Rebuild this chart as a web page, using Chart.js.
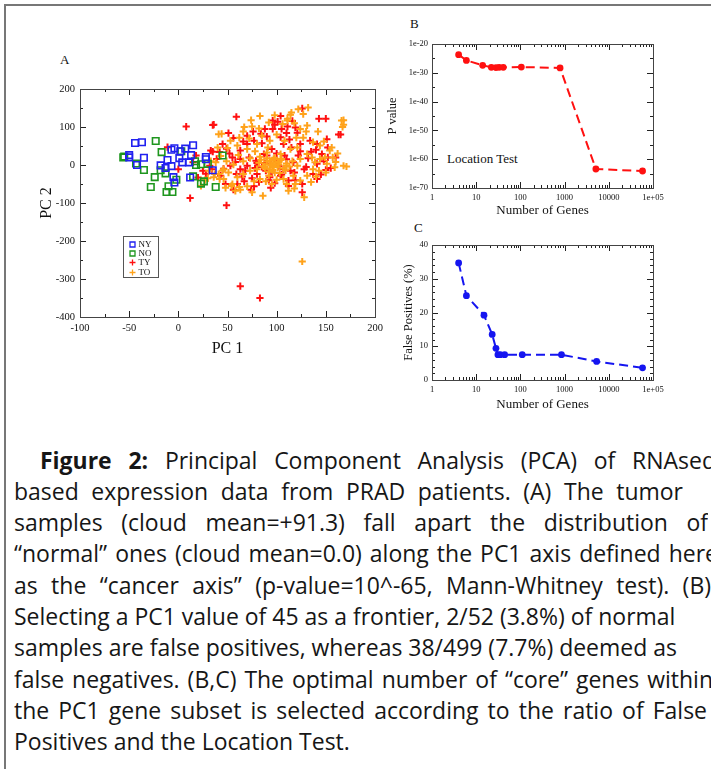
<!DOCTYPE html>
<html>
<head>
<meta charset="utf-8">
<script src="https://cdn.jsdelivr.net/npm/chart.js@4.4.1/dist/chart.umd.min.js"></script>
<style>
  html, body { margin: 0; padding: 0; background: #fff; }
  body { width: 711px; height: 769px; position: relative; overflow: hidden; font-family: "Liberation Serif", serif; }
  .frame { position: absolute; left: 4px; top: 4px; width: 800px; height: 800px; border-left: 2px solid #777; border-top: 2px solid #777; }
  canvas { position: absolute; }
  .lbl { position: absolute; color: #111; white-space: nowrap; font-family: "Liberation Serif", serif; }
  .cap { position: absolute; font-family: "Open Sans", sans-serif; font-size: 20px; line-height: 31px; color: #161616; white-space: nowrap; }
  .just { white-space: normal; text-align: justify; text-align-last: justify; height: 31px; overflow: hidden; }
</style>
</head>
<body>
<div class="frame"></div>

<div class="lbl" style="left:60px; top:52px; font-size:13px;">A</div>
<div class="lbl" style="left:410px; top:16px; font-size:13px;">B</div>
<div class="lbl" style="left:414px; top:220px; font-size:13px;">C</div>
<div class="lbl" style="left:447px; top:151px; font-size:13px;">Location Test</div>

<canvas id="chartA" width="370" height="330" style="left:20px; top:40px;"></canvas>
<canvas id="chartB" width="320" height="200" style="left:385px; top:20px;"></canvas>
<canvas id="chartC" width="320" height="195" style="left:385px; top:225px;"></canvas>

<div class="cap just" style="left:40px; top:445px; width:676px;"><b>Figure 2:</b> Principal Component Analysis (PCA) of RNAseq</div>
<div class="cap just" style="left:14px; top:476px; width:669px;">based expression data from PRAD patients. (A) The tumor</div>
<div class="cap just" style="left:14px; top:507px; width:694px;">samples (cloud mean=+91.3) fall apart the distribution of</div>
<div class="cap just" style="left:14px; top:538px; width:704px;">“normal” ones (cloud mean=0.0) along the PC1 axis defined here</div>
<div class="cap just" style="left:14px; top:570px; width:697px;">as the “cancer axis” (p-value=10^-65, Mann-Whitney test). (B)</div>
<div class="cap" style="left:14px; top:601px;">Selecting a PC1 value of 45 as a frontier, 2/52 (3.8%) of normal</div>
<div class="cap" style="left:14px; top:632px;">samples are false positives, whereas 38/499 (7.7%) deemed as</div>
<div class="cap just" style="left:14px; top:664px; width:699px;">false negatives. (B,C) The optimal number of “core” genes within</div>
<div class="cap just" style="left:14px; top:695px; width:693px;">the PC1 gene subset is selected according to the ratio of False</div>
<div class="cap" id="lastLine" style="left:14px; top:726px;">Positives and the Location Test.</div>

<script>
// ---- Painel A: PCA (PC1, PC2) ----
const ny = [[-44,58],[-37,60],[-50,26],[-50,20],[-35,19],[-42,0],[-18,-1],[-11,13],[-7,40],[-4,44],[-7,-3],[-5,-32],
  [-4,-46],[1,18],[7,43],[15,52],[4,7],[11,7],[13,26],[28,21],[28,15],[12,-33],[35,-14],[2,36],[-13,-8]];
const no = [[-55,22],[-43,4],[-23,63],[-17,34],[-35,-13],[-24,-32],[-28,-58],[-18,-14],[-13,-22],[-10,-56],[-12,-71],
  [-6,-71],[-2,-39],[3,36],[15,-30],[18,0],[23,2],[30,3],[26,-43],[23,-49],[38,-58],[45,25],[17,10],[-56,20]];
const ty = [[8,101],[36,106],[59,127],[12,-87],[49,-106],[63,-319],[83,-350],[-11,47],[0,-11],[126,149],[150,122],
  [143,122],[165,80],[35,105],[96,117],[101,114],[119,99],[105,95],[110,84],[96,95],[116,116],[163,80],[51,84],
  [56,71],[70,77],[77,64],[84,82],[90,75],[104,73],[113,67],[124,55],[134,64],[141,55],[151,68],[152,46],[152,20],
  [160,20],[150,-13],[141,-37],[126,-50],[126,-72],[112,-41],[104,-28],[94,-60],[93,-32],[77,-56],[74,-65],[67,-43],
  [56,-65],[48,-50],[43,-28],[34,-11],[33,38],[49,43],[55,20],[63,16],[70,-2],[79,11],[87,29],[95,42],[100,10],
  [108,25],[117,7],[124,36],[132,18],[141,3],[146,29],[148,10],[128,-11],[114,-15],[107,-11],[89,-15],[80,-24],
  [63,-11],[53,-2],[59,-24],[70,55],[63,38],[85,57],[107,55],[115,46],[15,7],[18,25],[20,-33],[25,-15],[32,-2],
  [39,16],[42,34],[28,-23],[35,35],[85,-5],[95,-20],[105,-25],[110,15],[90,25],[100,30],[80,5],[72,20],[65,-30],
  [58,8],[75,-35],[118,-20],[122,25],[130,-5],[135,35],[145,-25],[68,-15],[82,-45],[112,-55],[98,-48],[88,95],
  [111,101],[121,85],[76,88],[98,106],[104,129],[66,62],[140,40],[155,-8],[137,-24],[119,-40],[92,-40],[60,-50],
  [46,-10],[52,30],[45,55],[102,-3],[88,5],[94,2],[78,-8]];
const to = [[126,-254],[132,151],[168,106],[168,118],[171,-4],[128,-85],[86,-81],[44,82],[66,88],[127,134],[114,132],
  [111,117],[124,95],[131,104],[166,117],[167,100],[41,81],[75,101],[85,77],[93,64],[100,80],[120,72],[127,72],
  [137,60],[144,51],[154,38],[157,20],[168,-2],[159,-6],[151,3],[143,-15],[137,-11],[131,-28],[124,-41],[119,-50],
  [110,-50],[100,-39],[92,-28],[83,-37],[77,-43],[70,-56],[63,-65],[55,-50],[46,-37],[41,-24],[36,-32],[31,-15],
  [38,7],[43,24],[49,10],[56,1],[61,26],[66,10],[73,18],[78,36],[83,22],[90,18],[93,1],[97,16],[102,1],[105,16],
  [110,-2],[116,10],[121,-2],[124,16],[131,29],[136,20],[139,7],[144,16],[93,-11],[98,-20],[88,-4],[80,-11],
  [73,-15],[66,-24],[60,-32],[51,-20],[46,-11],[104,29],[114,42],[121,46],[108,64],[91,46],[80,55],[70,42],[60,51],
  [53,64],[90,33],[149,20],[156,46],[117,-28],[107,-37],[95,-50],[89,-43],[45,-15],[37,-24],[23,-55],[42,-37],
  [54,-55],[67,100],[74,118],[83,129],[98,131],[111,122],[115,138],[122,147],[95,0],[99,6],[101,-6],[90,9],
  [104,13],[107,-9],[86,-3],[96,-13],[98,19],[110,4],[88,-8],[93,11],[97,-4],[102,8],[113,-4],[84,14],[92,-18],
  [103,-21],[82,6],[109,-14],[30,-35],[27,-40],[48,-60],[58,-68],[62,-58],[75,-72],[112,-68],[118,-62],[135,-45],
  [140,-30],[150,-20],[160,8],[162,30],[148,62],[142,88],[130,88],[118,110],[106,108],[92,112],[82,96],[72,70],
  [62,72],[50,45],[40,46],[33,10]];
const xTicksA = [-100, -50, 0, 50, 100, 150, 200];
const yTicksA = [-400, -300, -200, -100, 0, 100, 200];

// ---- Painel B: Location Test ----
const genesB = [4, 6, 14, 22, 28, 33, 41, 105, 790, 5100, 58000];
const pvalExpB = [-23.7, -25.7, -27.4, -28.1, -28.2, -28.1, -28.1, -28.0, -28.3, -63.4, -64.1];
const yTicksB = [-70, -60, -50, -40, -30, -20];

// ---- Painel C: Falsos positivos ----
const genesC = [4, 6, 15, 23, 28, 31, 35, 44, 110, 850, 5300, 58000];
const falsePosC = [34.7, 25.0, 19.2, 13.5, 9.4, 7.5, 7.5, 7.5, 7.5, 7.5, 5.5, 3.6];
const yTicksC = [0, 10, 20, 30, 40];
const xTicksLog = [1, 10, 100, 1000, 10000, 100000];

// legenda: largura da última linha (px) usada para calibrar o tamanho da fonte
const larguraUltimaLinha = 336;
(function ajustaFonte() {
  const el = document.getElementById('lastLine');
  const c = document.createElement('canvas').getContext('2d');
  c.font = '100px "Open Sans"';
  const w = c.measureText(el.textContent).width;
  const size = (100 * larguraUltimaLinha / w).toFixed(2);
  document.querySelectorAll('.cap').forEach(d => { d.style.fontSize = size + 'px'; });
})();

const toXY = arr => arr.map(p => ({ x: p[0], y: p[1] }));
const serif = 'Liberation Serif';
const corTexto = '#111';

// ticks para dentro nos quatro lados + moldura (estilo xmgrace)
const frameTicks = {
  id: 'frameTicks',
  afterDatasetsDraw(chart, args, o) {
    const { ctx, chartArea: a, scales: { x, y } } = chart;
    const minor = (scale, step, isLog) => {
      const out = [];
      if (isLog) {
        for (let d = 1; d < scale.max; d *= 10) for (let k = 2; k < 10; k++) out.push(d * k);
      } else {
        for (let v = scale.min; v <= scale.max; v += step) out.push(v);
      }
      return out;
    };
    ctx.save();
    ctx.strokeStyle = '#222';
    ctx.lineWidth = 1;
    ctx.beginPath();
    const vtick = (v, len) => {
      const px = Math.round(x.getPixelForValue(v)) + 0.5;
      ctx.moveTo(px, a.bottom); ctx.lineTo(px, a.bottom - len);
      ctx.moveTo(px, a.top); ctx.lineTo(px, a.top + len);
    };
    const htick = (v, len) => {
      const py = Math.round(y.getPixelForValue(v)) + 0.5;
      ctx.moveTo(a.left, py); ctx.lineTo(a.left + len, py);
      ctx.moveTo(a.right, py); ctx.lineTo(a.right - len, py);
    };
    minor(x, o.xMinor, o.xLog).forEach(v => vtick(v, 3));
    minor(y, o.yMinor, false).forEach(v => htick(v, 3));
    x.ticks.forEach(t => vtick(t.value, 6));
    y.ticks.forEach(t => htick(t.value, 6));
    ctx.stroke();
    ctx.strokeStyle = '#444';
    ctx.strokeRect(Math.round(a.left) + 0.5, Math.round(a.top) + 0.5, Math.round(a.width), Math.round(a.height));
    ctx.restore();
  }
};

// legenda dentro do painel A
const boxLegend = {
  id: 'boxLegend',
  afterDraw(chart) {
    const { ctx, chartArea: a } = chart;
    const bx = a.left + 43.5, by = a.top + 147.5;
    ctx.save();
    ctx.strokeStyle = '#555';
    ctx.lineWidth = 1;
    ctx.strokeRect(bx, by, 35, 41);
    ctx.font = '9px "' + serif + '"';
    ctx.textBaseline = 'middle';
    chart.data.datasets.slice().sort((p, q) => p.legendIdx - q.legendIdx).forEach((ds, i) => {
      const cy = Math.round(by + 7 + i * 9.4) + 0.5;
      ctx.strokeStyle = ds.borderColor;
      ctx.lineWidth = 1.3;
      ctx.beginPath();
      if (ds.pointStyle === 'rect') ctx.rect(bx + 6.5, cy - 2.5, 5, 5);
      else { ctx.moveTo(bx + 6, cy); ctx.lineTo(bx + 12, cy); ctx.moveTo(bx + 9, cy - 3); ctx.lineTo(bx + 9, cy + 3); }
      ctx.stroke();
      ctx.fillStyle = corTexto;
      ctx.fillText(ds.label, bx + 15, cy + 0.5);
    });
    ctx.restore();
  }
};

const fixTicks = list => s => { s.ticks = list.map(v => ({ value: v })); };

new Chart(document.getElementById('chartA'), {
  type: 'scatter',
  data: {
    datasets: [
      { label: 'NY', legendIdx: 0, order: 0, data: toXY(ny), pointStyle: 'rect', pointRadius: 4.6,
        borderColor: '#2020f0', backgroundColor: 'rgba(0,0,0,0)', borderWidth: 1.6 },
      { label: 'NO', legendIdx: 1, order: 1, data: toXY(no), pointStyle: 'rect', pointRadius: 4.6,
        borderColor: '#1e961e', backgroundColor: 'rgba(0,0,0,0)', borderWidth: 1.6 },
      { label: 'TY', legendIdx: 2, order: 3, data: toXY(ty), pointStyle: 'cross', pointRadius: 3.6,
        borderColor: '#ff1010', backgroundColor: '#ff1010', borderWidth: 2 },
      { label: 'TO', legendIdx: 3, order: 2, data: toXY(to), pointStyle: 'cross', pointRadius: 3.6,
        borderColor: '#ffa21a', backgroundColor: '#ffa21a', borderWidth: 2 }
    ]
  },
  options: {
    responsive: false, animation: false, devicePixelRatio: 1,
    layout: { padding: { left: 15, top: 49, right: 15, bottom: 10 } },
    plugins: { legend: { display: false }, tooltip: { enabled: false },
      frameTicks: { xMinor: 25, yMinor: 50, xLog: false } },
    scales: {
      x: {
        type: 'linear', min: -100, max: 200,
        afterBuildTicks: fixTicks(xTicksA),
        afterFit: s => { s.height = 43; },
        grid: { display: false, drawTicks: false }, border: { display: false },
        ticks: { padding: 5, color: corTexto, font: { family: serif, size: 10.5 } },
        title: { display: true, text: 'PC 1', color: corTexto, font: { family: serif, size: 16 }, padding: { top: 0, bottom: 2 } }
      },
      y: {
        type: 'linear', min: -400, max: 200,
        afterBuildTicks: fixTicks(yTicksA),
        afterFit: s => { s.width = 45; },
        grid: { display: false, drawTicks: false }, border: { display: false },
        ticks: { padding: 5, color: corTexto, font: { family: serif, size: 10.5 } },
        title: { display: true, text: 'PC 2', color: corTexto, font: { family: serif, size: 16 }, padding: { top: 2, bottom: 0 } }
      }
    }
  },
  plugins: [frameTicks, boxLegend]
});

const lineOpts = (padding, yWidth, xHeight, yMin, yMax, yTicks, yFmt, yMinor, yTitle, yTitlePad) => ({
  responsive: false, animation: false, devicePixelRatio: 1,
  layout: { padding: padding },
  plugins: { legend: { display: false }, tooltip: { enabled: false },
    frameTicks: { xMinor: 0, yMinor: yMinor, xLog: true } },
  scales: {
    x: {
      type: 'logarithmic', min: 1, max: 100000,
      afterBuildTicks: fixTicks(xTicksLog),
      afterFit: s => { s.height = xHeight; },
      grid: { display: false, drawTicks: false }, border: { display: false },
      ticks: { padding: 5, color: corTexto, font: { family: serif, size: 8.5 },
        callback: v => v === 100000 ? '1e+05' : String(v) },
      title: { display: true, text: 'Number of Genes', color: corTexto, font: { family: serif, size: 13 }, padding: 0 }
    },
    y: {
      type: 'linear', min: yMin, max: yMax,
      afterBuildTicks: fixTicks(yTicks),
      afterFit: s => { s.width = yWidth; },
      grid: { display: false, drawTicks: false }, border: { display: false },
      ticks: { padding: 4, color: corTexto, font: { family: serif, size: 8.5 }, callback: yFmt },
      title: { display: true, text: yTitle, color: corTexto, font: { family: serif, size: 12.5 }, padding: { top: yTitlePad, bottom: 0 } }
    }
  }
});

new Chart(document.getElementById('chartB'), {
  type: 'line',
  data: {
    datasets: [{
      data: genesB.map((g, i) => ({ x: g, y: pvalExpB[i] })),
      borderColor: '#ff1010', backgroundColor: '#ff1010', borderWidth: 2, borderDash: [9, 5],
      pointRadius: 3.4, pointBorderWidth: 0, tension: 0
    }]
  },
  options: lineOpts({ left: 0, top: 24, right: 52, bottom: 2 }, 47, 30, -70, -20, yTicksB,
    v => '1e' + v, 5, 'P value', 0),
  plugins: [frameTicks]
});

new Chart(document.getElementById('chartC'), {
  type: 'line',
  data: {
    datasets: [{
      data: genesC.map((g, i) => ({ x: g, y: falsePosC[i] })),
      borderColor: '#1515f0', backgroundColor: '#1515f0', borderWidth: 2, borderDash: [9, 5],
      pointRadius: 3.4, pointBorderWidth: 0, tension: 0
    }]
  },
  options: lineOpts({ left: 0, top: 20, right: 52, bottom: 8 }, 47, 32, 0, 40, yTicksC,
    v => String(v), 2, 'False Positives (%)', 16),
  plugins: [frameTicks]
});
</script>
</body>
</html>
